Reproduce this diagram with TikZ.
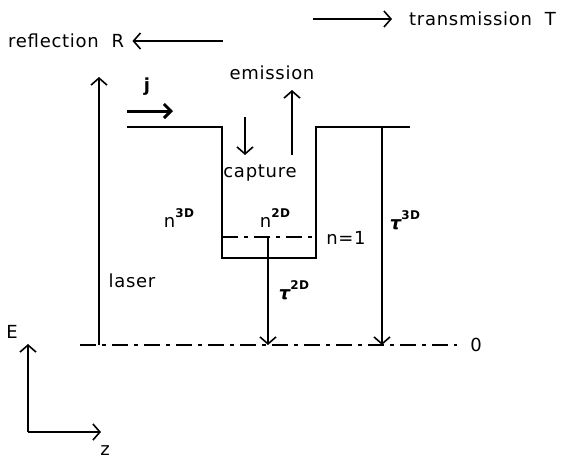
\documentclass[tikz,border=0pt]{standalone}
\usepackage{amsmath,amssymb}
\usepackage{fontspec}
\setmainfont{DejaVu Sans}[LetterSpace=4]
\usepackage{tikz}
\usetikzlibrary{arrows.meta,positioning}

\begin{document}
\begin{tikzpicture}[
  x=1pt, y=-1pt,
  font=\fontsize{18}{20}\selectfont,
  line/.style={line width=1.6pt},
  arr/.style={line width=1.6pt, -{Straight Barb[length=7pt,width=16pt,line width=1.6pt]}},
  bold arr/.style={line width=3pt, -{Straight Barb[length=7pt,width=14pt,line width=3pt]}},
  dashdot/.style={line width=1.6pt, dash pattern=on 16pt off 6pt on 4pt off 6pt},
  lab/.style={inner sep=1pt},
]
\useasboundingbox (0,0) rectangle (562,459);

% quantum well profile
\coordinate (bar-l) at (127,127);
\coordinate (well-tl) at (222,127);
\coordinate (well-bl) at (222,258);
\coordinate (well-br) at (316,258);
\coordinate (well-tr) at (316,127);
\coordinate (bar-r) at (410,127);
\draw[line] (bar-l) -- (well-tl) -- (well-bl) -- (well-br) -- (well-tr) -- (bar-r);

% levels
\coordinate (lev-l) at (222,237);
\coordinate (lev-r) at (316,237);
\draw[dashdot] (lev-l) -- (lev-r);
\coordinate (base-l) at (80,345);
\coordinate (base-r) at (457,345);
\draw[dashdot] (base-l) -- (base-r);
\node[lab] (zero) at (476,345) {0};
\node[lab] (lev1) at (346,238) {n=1};

% reflection and transmission
\node[lab, anchor=west] (refl) at (7,41) {reflection\ \ R};
\coordinate (refl-start) at (223,41);
\draw[arr, shorten >=7pt] (refl-start) -- (refl.east);
\coordinate (trans-start) at (313,19);
\node[lab, anchor=west] (trans) at (408,19) {transmission\ \ T};
\draw[arr, shorten >=16pt] (trans-start) -- (trans.west);

% current and laser
\coordinate (j-start) at (127,111);
\coordinate (j-end) at (173,111);
\draw[bold arr] (j-start) -- (j-end);
\node[lab, font=\fontsize{18}{20}\selectfont\bfseries] (j) at (147,87) {j};
\coordinate (laser-bot) at (99,345);
\coordinate (laser-top) at (99,77);
\draw[arr] (laser-bot) -- (laser-top);
\node[lab] (laser) at (132,281) {laser};

% capture and emission
\coordinate (cap-top) at (245,117);
\coordinate (cap-bot) at (245,155);
\draw[arr] (cap-top) -- (cap-bot);
\node[lab] (capture) at (260,173) {capture};
\coordinate (em-bot) at (292,155);
\coordinate (em-top) at (292,90);
\draw[arr] (em-bot) -- (em-top);
\node[lab] (emission) at (272,73) {emission};

% densities
\node[lab] (n3d) at (179,218) {n\raisebox{0.55em}{\fontsize{12}{12}\selectfont\bfseries 3D}};
\node[lab] (n2d) at (275,218) {n\raisebox{0.55em}{\fontsize{12}{12}\selectfont\bfseries 2D}};

% lifetimes
\coordinate (t3d-top) at (382,127);
\coordinate (t3d-bot) at (382,345);
\draw[arr] (t3d-top) -- (t3d-bot);
\node[lab] (t3d) at (405,220) {{\bfseries\itshape τ}\raisebox{0.55em}{\fontsize{12}{12}\selectfont\bfseries 3D}};
\coordinate (t2d-top) at (268,237);
\coordinate (t2d-bot) at (268,345);
\draw[arr] (t2d-top) -- (t2d-bot);
\node[lab] (t2d) at (294,290) {{\bfseries\itshape τ}\raisebox{0.55em}{\fontsize{12}{12}\selectfont\bfseries 2D}};

% axes
\coordinate (origin) at (28,432);
\coordinate (e-tip) at (28,344);
\coordinate (z-tip) at (101,432);
\draw[arr] (origin) -- (e-tip);
\draw[arr] (origin) -- (z-tip);
\node[lab] (E) at (12,332) {E};
\node[lab] (z) at (105,451) {z};
\end{tikzpicture}
\end{document}
